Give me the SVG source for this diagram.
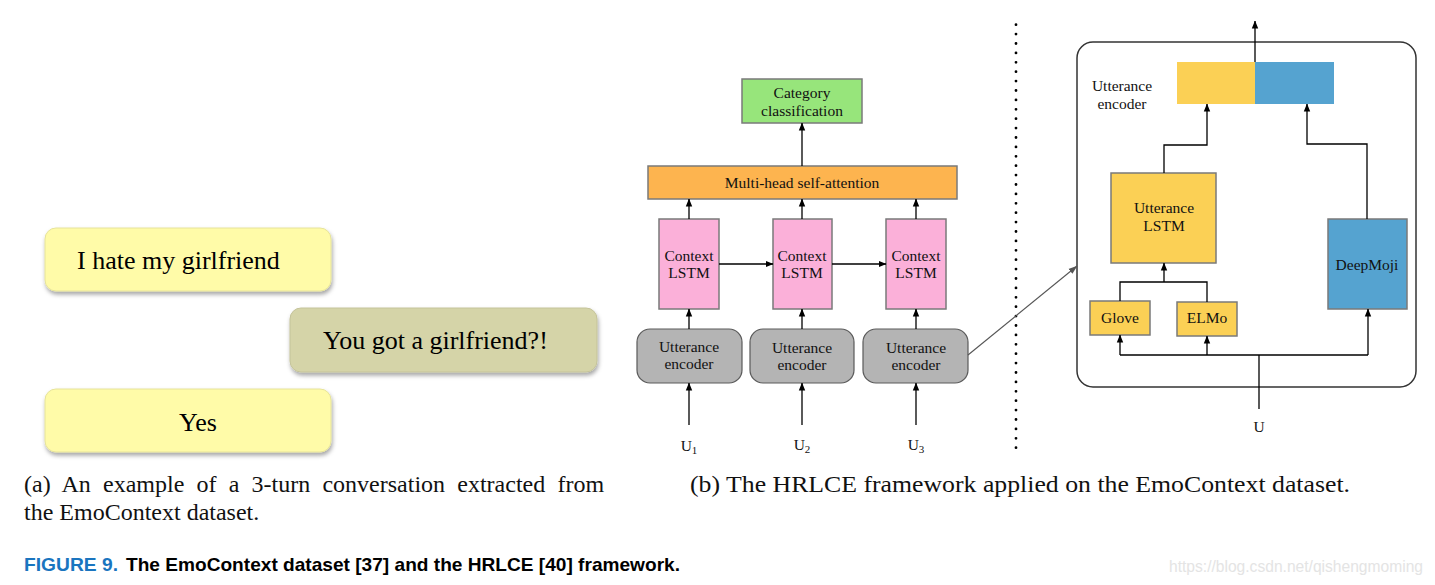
<svg xmlns="http://www.w3.org/2000/svg" width="1435" height="585" viewBox="0 0 1435 585">
<defs>
<marker id="ah" markerWidth="8" markerHeight="8" viewBox="0 0 8 8" refX="7.5" refY="4" orient="auto" markerUnits="userSpaceOnUse">
<path d="M0,0.8 L8,4 L0,7.2 Z" fill="#000"/>
</marker>
<marker id="ahg" markerWidth="9" markerHeight="8" viewBox="0 0 9 8" refX="8.5" refY="4" orient="auto" markerUnits="userSpaceOnUse">
<path d="M0,0.8 L9,4 L0,7.2 Z" fill="#555"/>
</marker>
<filter id="sh" x="-10%" y="-20%" width="125%" height="160%">
<feDropShadow dx="1" dy="3" stdDeviation="2" flood-color="#000" flood-opacity="0.35"/>
</filter>
</defs>
<style>
.bub{font-family:"Liberation Serif","Times New Roman",serif;font-size:26px;fill:#000}
.cap{font-family:"Liberation Serif","Times New Roman",serif;font-size:24px;fill:#111}
.lb{font-family:"Liberation Serif","Times New Roman",serif;font-size:15.5px;fill:#111;text-anchor:middle}
.box{stroke:#7a7a7a;stroke-width:1.5}
.ln{fill:none;stroke:#000;stroke-width:1.3}
.ar{fill:none;stroke:#000;stroke-width:1.3;marker-end:url(#ah)}
.ttl{font-family:"Liberation Sans",Arial,sans-serif;font-size:19px;font-weight:bold}
</style>
<rect width="1435" height="585" fill="#fff"/>

<!-- Panel (a) -->
<g id="bubble1">
<rect x="45" y="228" width="286" height="63" rx="11" fill="#fffba8" stroke="#e6e39a" stroke-width="1" filter="url(#sh)"/>
<text class="bub" x="77" y="269">I hate my girlfriend</text>
</g>
<g id="bubble2">
<rect x="290" y="308" width="307" height="64" rx="11" fill="#d5d4a8" stroke="#c4c39a" stroke-width="1" filter="url(#sh)"/>
<text class="bub" x="323" y="349">You got a girlfriend?!</text>
</g>
<g id="bubble3">
<rect x="45" y="389" width="286" height="63" rx="11" fill="#fffba8" stroke="#e6e39a" stroke-width="1" filter="url(#sh)"/>
<text class="bub" x="198" y="431" text-anchor="middle">Yes</text>
</g>
<text class="cap" x="24" y="492" word-spacing="6.2">(a) An example of a 3-turn conversation extracted from</text>
<text class="cap" x="24" y="520">the EmoContext dataset.</text>

<!-- Panel (b) left -->
<g id="category">
<rect class="box" x="742" y="79" width="120" height="44" fill="#97e57b"/>
<text class="lb" x="802" y="98">Category</text>
<text class="lb" x="802" y="116">classification</text>
</g>
<g id="attention">
<rect class="box" x="648" y="166" width="309" height="33" fill="#fdb44f"/>
<text class="lb" x="802" y="188">Multi-head self-attention</text>
</g>
<g id="ctx1">
<rect class="box" x="659" y="219" width="60" height="90" fill="#fbb0d9"/>
<text class="lb" x="689" y="261">Context</text>
<text class="lb" x="689" y="278">LSTM</text>
</g>
<g id="ctx2">
<rect class="box" x="773" y="219" width="59" height="90" fill="#fbb0d9"/>
<text class="lb" x="802" y="261">Context</text>
<text class="lb" x="802" y="278">LSTM</text>
</g>
<g id="ctx3">
<rect class="box" x="886" y="219" width="60" height="90" fill="#fbb0d9"/>
<text class="lb" x="916" y="261">Context</text>
<text class="lb" x="916" y="278">LSTM</text>
</g>
<g id="enc1">
<rect x="637" y="329" width="105" height="54" rx="13" fill="#b4b4b4" stroke="#5a5a5a" stroke-width="1.2"/>
<text class="lb" x="689" y="352">Utterance</text>
<text class="lb" x="689" y="369">encoder</text>
</g>
<g id="enc2">
<rect x="750" y="329" width="104" height="54" rx="13" fill="#b4b4b4" stroke="#5a5a5a" stroke-width="1.2"/>
<text class="lb" x="802" y="353">Utterance</text>
<text class="lb" x="802" y="370">encoder</text>
</g>
<g id="enc3">
<rect x="863" y="329" width="105" height="54" rx="13" fill="#b4b4b4" stroke="#5a5a5a" stroke-width="1.2"/>
<text class="lb" x="916" y="353">Utterance</text>
<text class="lb" x="916" y="370">encoder</text>
</g>
<g id="inputs">
<text class="lb" x="689" y="451">U<tspan font-size="11" dy="3">1</tspan></text>
<text class="lb" x="802" y="450">U<tspan font-size="11" dy="3">2</tspan></text>
<text class="lb" x="916" y="450">U<tspan font-size="11" dy="3">3</tspan></text>
</g>

<!-- separator -->
<line x1="1016" y1="24.7" x2="1016" y2="452" stroke="#000" stroke-width="2.8" stroke-linecap="round" stroke-dasharray="0 9.4"/>

<!-- Panel (b) right -->
<g id="utterance-encoder-detail">
<rect x="1077" y="42" width="339" height="345" rx="16" fill="#fff" stroke="#333" stroke-width="1.5"/>
<text class="lb" x="1122" y="91">Utterance</text>
<text class="lb" x="1122" y="109">encoder</text>
</g>
<g id="concat">
<rect x="1177" y="62" width="78" height="42" fill="#fbd055"/>
<rect x="1255" y="62" width="79" height="42" fill="#55a3d0"/>
</g>
<g id="utt-lstm">
<rect class="box" x="1111" y="173" width="105" height="90" fill="#fbd055"/>
<text class="lb" x="1164" y="213">Utterance</text>
<text class="lb" x="1164" y="231">LSTM</text>
</g>
<g id="deepmoji">
<rect class="box" x="1328" y="219" width="79" height="90" fill="#55a3d0"/>
<text class="lb" x="1367" y="270">DeepMoji</text>
</g>
<g id="glove">
<rect class="box" x="1090" y="301" width="60" height="34" fill="#fbd055"/>
<text class="lb" x="1120" y="323">Glove</text>
</g>
<g id="elmo">
<rect class="box" x="1177" y="302" width="60" height="34" fill="#fbd055"/>
<text class="lb" x="1207" y="323">ELMo</text>
</g>
<text class="lb" x="1259" y="432">U</text>

<!-- connectors -->
<g id="connectors">
<line class="ar" x1="802" y1="166" x2="802" y2="123"/>
<line class="ar" x1="689" y1="219" x2="689" y2="199"/>
<line class="ar" x1="802" y1="219" x2="802" y2="199"/>
<line class="ar" x1="916" y1="219" x2="916" y2="199"/>
<line class="ar" x1="719" y1="264" x2="773" y2="264"/>
<line class="ar" x1="832" y1="264" x2="886" y2="264"/>
<line class="ar" x1="689" y1="329" x2="689" y2="309"/>
<line class="ar" x1="802" y1="329" x2="802" y2="309"/>
<line class="ar" x1="916" y1="329" x2="916" y2="309"/>
<line class="ar" x1="689" y1="425" x2="689" y2="383"/>
<line class="ar" x1="802" y1="425" x2="802" y2="383"/>
<line class="ar" x1="916" y1="425" x2="916" y2="383"/>
<line x1="968" y1="355" x2="1077" y2="266" stroke="#555" stroke-width="1.1" marker-end="url(#ahg)"/>
<line class="ar" x1="1255" y1="62" x2="1255" y2="21"/>
<polyline class="ar" points="1164,173 1164,145 1207,145 1207,104"/>
<polyline class="ar" points="1367,219 1367,144 1307,144 1307,104"/>
<polyline class="ln" points="1120,301 1120,282 1207,282 1207,302"/>
<line class="ar" x1="1164" y1="282" x2="1164" y2="263"/>
<line class="ln" x1="1259" y1="409" x2="1259" y2="355"/>
<polyline class="ln" points="1120,355 1368,355"/>
<line class="ar" x1="1120" y1="355" x2="1120" y2="335"/>
<line class="ar" x1="1207" y1="355" x2="1207" y2="336"/>
<line class="ar" x1="1368" y1="355" x2="1368" y2="309"/>
</g>

<text class="cap" x="690" y="492" textLength="660" lengthAdjust="spacingAndGlyphs">(b) The HRLCE framework applied on the EmoContext dataset.</text>

<text class="ttl" x="24" y="571" fill="#1a75bf" textLength="94" lengthAdjust="spacingAndGlyphs">FIGURE 9.</text>
<text class="ttl" x="126" y="571" fill="#000" textLength="554" lengthAdjust="spacingAndGlyphs">The EmoContext dataset [37] and the HRLCE [40] framework.</text>
<text x="1169" y="572" font-family="Liberation Sans,Arial,sans-serif" font-size="16" fill="#e4e4e4" textLength="254" lengthAdjust="spacingAndGlyphs">https://blog.csdn.net/qishengmoming</text>
</svg>
